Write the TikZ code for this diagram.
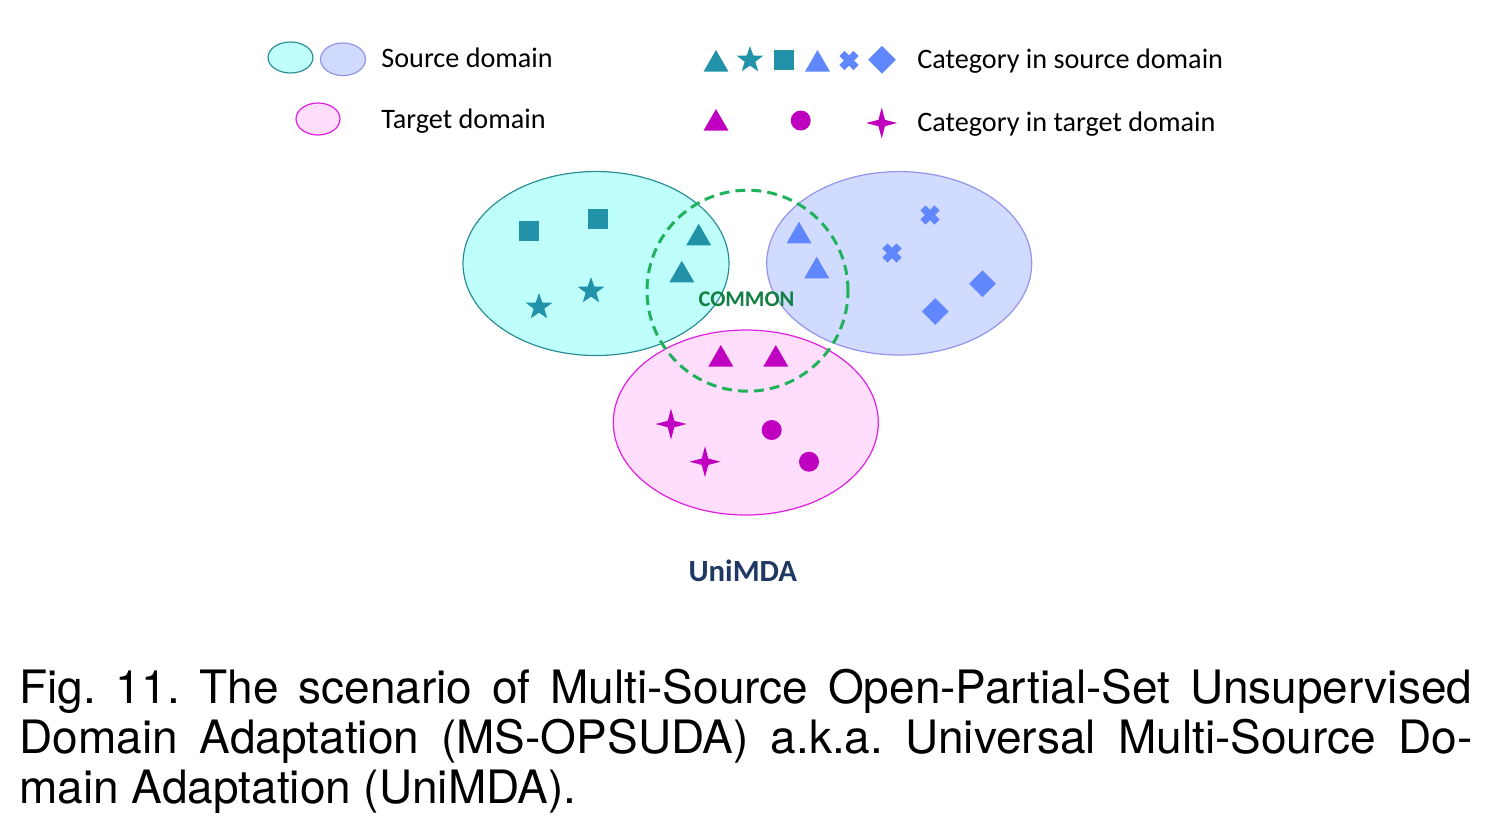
\documentclass[tikz,border=0pt]{standalone}
\usepackage{fontspec}
\setmainfont{Carlito}
\newfontfamily\capfont{TeX Gyre Heros}
\usetikzlibrary{shapes.geometric}
\definecolor{tealc}{HTML}{2192A8}
\definecolor{cyanfill}{HTML}{BFFFFB}
\definecolor{cyanline}{HTML}{2D8F96}
\definecolor{bluefill}{HTML}{D0DBFF}
\definecolor{blueline}{HTML}{9494EA}
\definecolor{bluec}{HTML}{6187FF}
\definecolor{pinkfill}{HTML}{FFDDFD}
\definecolor{pinkline}{HTML}{E020E0}
\definecolor{magc}{HTML}{C000C0}
\definecolor{greenline}{HTML}{20B25A}
\definecolor{greentext}{HTML}{138043}
\definecolor{navy}{HTML}{1F3864}
\begin{document}
\begin{tikzpicture}[x=0.5pt,y=-0.5pt,
  domainell/.style n args={4}{ellipse, inner sep=0pt, minimum width=#1, minimum height=#2, draw=#3, fill=#4, line width=0.6pt},
  tri/.style={regular polygon, regular polygon sides=3, minimum size=14.4pt, inner sep=0pt, fill=#1},
  starfive/.style={star, star points=5, star point ratio=2.5, minimum size=14pt, inner sep=0pt, fill=#1},
  starfour/.style={star, star points=4, star point ratio=3.4, minimum size=15.5pt, inner sep=0pt, fill=#1},
  sq/.style={rectangle, minimum size=10pt, inner sep=0pt, fill=#1},
  dia/.style={diamond, aspect=1, minimum width=13.5pt, minimum height=13.5pt, inner sep=0pt, fill=#1},
  dot/.style={circle, minimum size=10pt, inner sep=0pt, fill=#1},
  pics/xmark/.style={code={\fill[#1,rotate=45] (-10,-3.6) rectangle (10,3.6) (-3.6,-10) rectangle (3.6,10);}},
  legendtext/.style={anchor=base west, inner sep=0pt, font=\fontsize{14.1}{17}\selectfont},
  captext/.style={anchor=base west, inner sep=0pt, font=\capfont\fontsize{23}{25}\selectfont}
]
\useasboundingbox (0,0) rectangle (1492,832);

% legend
\node[domainell={22.5pt}{15.5pt}{cyanline}{cyanfill}] (lc) at (290.5,57.5) {};
\node[domainell={22.5pt}{16.3pt}{blueline}{bluefill}] (lb) at (343,59.3) {};
\node[domainell={22pt}{16pt}{pinkline}{pinkfill}] (lp) at (318,119) {};
\node[legendtext] (lsrc) at (381,67) {Source domain};
\node[legendtext] (ltgt) at (381,128) {Target domain};

\node[tri=tealc] (lt1) at (716,64.4) {};
\node[starfive=tealc] (ls1) at (750,60) {};
\node[sq=tealc] (lq1) at (783.7,60) {};
\node[tri=bluec] (lt2) at (817.5,64.4) {};
\pic (lx1) at (849,60.5) {xmark=bluec};
\node[dia=bluec, minimum width=14pt, minimum height=14pt] (ld1) at (882,59.7) {};
\node[legendtext] (lcs) at (917,68) {Category in source domain};

\node[tri=magc] (lt3) at (716,123.4) {};
\node[dot=magc] (lo1) at (800.7,120.5) {};
\node[starfour=magc] (lf1) at (881.7,123) {};
\node[legendtext] (lct) at (917,131.5) {Category in target domain};

% domains
\node[domainell={133pt}{92pt}{cyanline}{cyanfill}] (srcA) at (596,263.5) {};
\node[domainell={132.5pt}{91.7pt}{blueline}{bluefill}] (srcB) at (899.2,263.3) {};
\node[domainell={132.5pt}{92.5pt}{pinkline}{pinkfill}] (tgt) at (745.8,422.5) {};
\node[circle, inner sep=0pt, minimum size=100.5pt, draw=greenline, line width=1.5pt, dash pattern=on 5pt off 3pt] (common) at (747.5,290.7) {};

% source A samples
\node[sq=tealc] (a1) at (529,231) {};
\node[sq=tealc] (a2) at (598,219) {};
\node[starfive=tealc] (a3) at (539,307) {};
\node[starfive=tealc] (a4) at (591,291) {};
\node[tri=tealc] (a5) at (698.7,238.1) {};
\node[tri=tealc] (a6) at (681.8,275.1) {};

% source B samples
\node[tri=bluec] (b1) at (799,236.1) {};
\node[tri=bluec] (b2) at (816.7,271.1) {};
\pic (b3) at (930,215) {xmark=bluec};
\pic (b4) at (892,253) {xmark=bluec};
\node[dia=bluec] (b5) at (982.5,283.7) {};
\node[dia=bluec] (b6) at (935.3,311.5) {};

% target samples
\node[tri=magc] (t1) at (720.8,359.4) {};
\node[tri=magc] (t2) at (775.8,359.4) {};
\node[starfour=magc] (t3) at (671,424) {};
\node[starfour=magc] (t4) at (705,461.7) {};
\node[dot=magc] (t5) at (771.7,430) {};
\node[dot=magc] (t6) at (809,461.7) {};

\node[anchor=base, inner sep=0pt, text=greentext, font=\bfseries\fontsize{11.2}{13}\selectfont] (commonlbl) at (746.5,306.7) {COMMON};
\node[anchor=base, inner sep=0pt, text=navy, font=\bfseries\fontsize{15.4}{18}\selectfont] (title) at (742.8,581) {UniMDA};

% caption
\node[captext] (cap1) at (19,703.3) {\frenchspacing\hbox to 726.5pt{Fig. 11. The scenario of Multi-Source Open-Partial-Set Unsupervised}};
\node[captext] (cap2) at (19,753.5) {\frenchspacing\hbox to 726.5pt{Domain Adaptation (MS-OPSUDA) a.k.a. Universal Multi-Source Do-}};
\node[captext] (cap3) at (19,803.5) {\frenchspacing main Adaptation (UniMDA).};
\end{tikzpicture}
\end{document}
